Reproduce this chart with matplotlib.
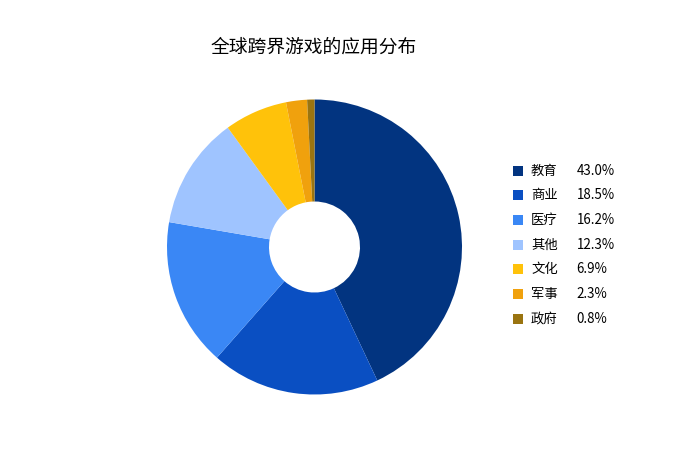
import matplotlib
matplotlib.use("Agg")
import matplotlib.pyplot as plt

plt.rcParams['font.family'] = ['Noto Sans CJK SC', 'DejaVu Sans']

title = "全球跨界游戏的应用分布"
categories = ["教育", "商业", "医疗", "其他", "文化", "军事", "政府"]
shares = [43.0, 18.5, 16.2, 12.3, 6.9, 2.3, 0.8]
colors = ["#023480", "#0a4fc2", "#3a87f5", "#9fc4ff", "#ffc20a", "#f0a10d", "#9a7410"]

W, H = 692, 475
fig = plt.figure(figsize=(W / 100, H / 100), dpi=100)

# donut: centre (314.5, 247) px, radius 147.5 px
cx, cy, r = 314.5, 247, 147.5
ax = fig.add_axes([(cx - r) / W, (H - cy - r) / H, 2 * r / W, 2 * r / H])
ax.pie(shares, colors=colors, startangle=90, counterclock=False,
       radius=1, wedgeprops=dict(width=1 - 45.5 / 147.5, linewidth=0))
ax.set_xlim(-1, 1)
ax.set_ylim(-1, 1)
ax.set_aspect('equal')
ax.axis('off')

fig.text(314 / W, 1 - 47 / H, title, ha='center', va='center', fontsize=13.5)

# legend drawn by hand
row = 24.7
top = 170.5 - row / 2
leg = fig.add_axes([500 / W, (H - top - 7 * row) / H, 140 / W, 7 * row / H])
leg.set_xlim(0, 140)
leg.set_ylim(6.5, -0.5)
leg.axis('off')
for i, (name, val, c) in enumerate(zip(categories, shares, colors)):
    leg.scatter(17.5, i, marker='s', s=52, color=c, linewidths=0)
    leg.text(31, i, name, va='center', ha='left', fontsize=9.6)
    leg.text(76.5, i, f"{val:.1f}%", va='center', ha='left', fontsize=9.6)

fig.savefig("out.png", dpi=100)
